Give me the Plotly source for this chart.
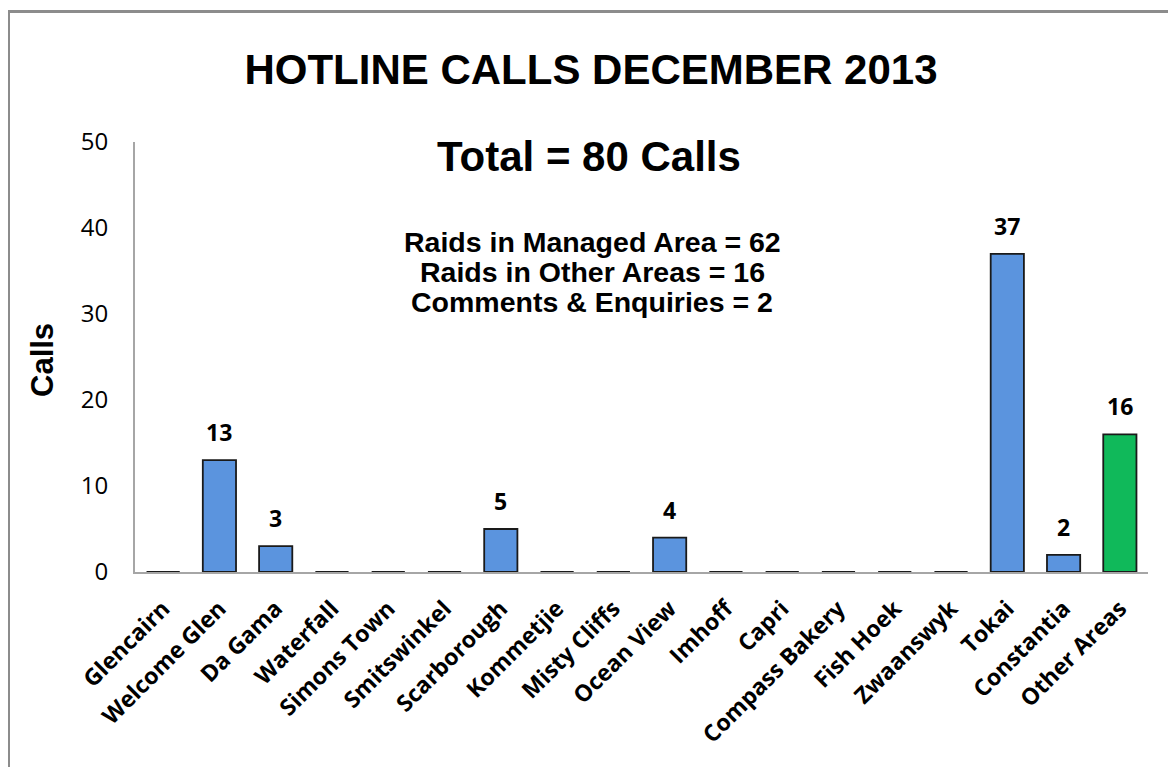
import plotly.graph_objects as go

categories = ["Glencairn", "Welcome Glen", "Da Gama", "Waterfall", "Simons Town",
              "Smitswinkel", "Scarborough", "Kommetjie", "Misty Cliffs", "Ocean View",
              "Imhoff", "Capri", "Compass Bakery", "Fish Hoek", "Zwaanswyk",
              "Tokai", "Constantia", "Other Areas"]
calls = [0, 13, 3, 0, 0, 0, 5, 0, 0, 4, 0, 0, 0, 0, 0, 37, 2, 16]
bar_colors = ["#5b94de"] * 17 + ["#10b95a"]
title_text = "HOTLINE CALLS DECEMBER 2013"
total_text = "Total = 80 Calls"
summary_lines = ["Raids in Managed Area = 62", "Raids in Other Areas = 16", "Comments & Enquiries = 2"]
y_ticks = [0, 10, 20, 30, 40, 50]

W, H = 1176, 767
OFF = 8  # page body margin
# plot area in screen pixels of the reference
SL, SR, ST, SB = 135, 1148, 142, 572
L = SL - OFF
T = ST - OFF
R = W - (SR - OFF)
B = H - (SB - OFF)
pw, ph = SR - SL, SB - ST

def px_x(x):
    return (x - SL) / pw

def px_y(y):
    return (SB - y) / ph

fig = go.Figure()
fig.add_trace(go.Bar(
    x=categories, y=calls,
    marker=dict(color=bar_colors, line=dict(color="#1a1a1a", width=1.8)),
    width=0.59, hoverinfo="x+y",
))

for c, v in zip(categories, calls):
    if v > 0:
        fig.add_annotation(x=c, y=v, xref="x", yref="y", text="<b>" + str(v) + "</b>", showarrow=False,
                           yanchor="bottom", yshift=10,
                           font=dict(family="Open Sans", size=23, color="#000000"))

fig.add_annotation(x=px_x(589), y=px_y(156), xref="paper", yref="paper", text="<b>" + total_text + "</b>",
                   showarrow=False, xanchor="center", yanchor="middle",
                   font=dict(family="Liberation Sans, Arial", size=42, color="#000000"))
for i, s in enumerate(summary_lines):
    fig.add_annotation(x=px_x(592), y=px_y(242 + 30 * i), xref="paper", yref="paper",
                       text="<b>" + s + "</b>", borderpad=0,
                       showarrow=False, xanchor="center", yanchor="middle", align="center",
                       font=dict(family="Liberation Sans, Arial", size=28.5, color="#000000"))

fig.add_annotation(x=px_x(42), y=px_y(360), xref="paper", yref="paper", text="<b>Calls</b>",
                   textangle=-90, showarrow=False, xanchor="center", yanchor="middle",
                   font=dict(family="Liberation Sans, Arial", size=31, color="#000000"))

fig.add_shape(type="rect", xref="paper", yref="paper",
              x0=px_x(OFF + 0.5), x1=px_x(1190), y0=px_y(790), y1=px_y(11.5),
              line=dict(color="#8c8c8c", width=3), fillcolor="rgba(0,0,0,0)", layer="below")

fig.update_layout(
    width=W, height=H,
    margin=dict(l=L, r=R, t=T, b=B, autoexpand=False),
    paper_bgcolor="white", plot_bgcolor="white",
    showlegend=False,
    title=dict(text="<b>" + title_text + "</b>", x=(591 - OFF) / W, y=1 - (69 - OFF) / H,
               xanchor="center", yanchor="middle",
               font=dict(family="Liberation Sans, Arial", size=42, color="#000000")),
    xaxis=dict(range=[-0.5, 17.5], showgrid=False, showline=True, linecolor="#a6a6a6", linewidth=2,
               ticks="", tickangle=-45, ticklabelstandoff=12,
               tickfont=dict(family="Open Sans", size=23, color="#000000", weight="bold")),
    yaxis=dict(range=[0, 50], tickvals=y_ticks, showgrid=False, showline=True, linecolor="#a6a6a6",
               linewidth=2, ticks="", zeroline=False, ticklabelstandoff=20,
               tickfont=dict(family="Open Sans", size=24, color="#000000")),
)

fig.write_html("out.html")
